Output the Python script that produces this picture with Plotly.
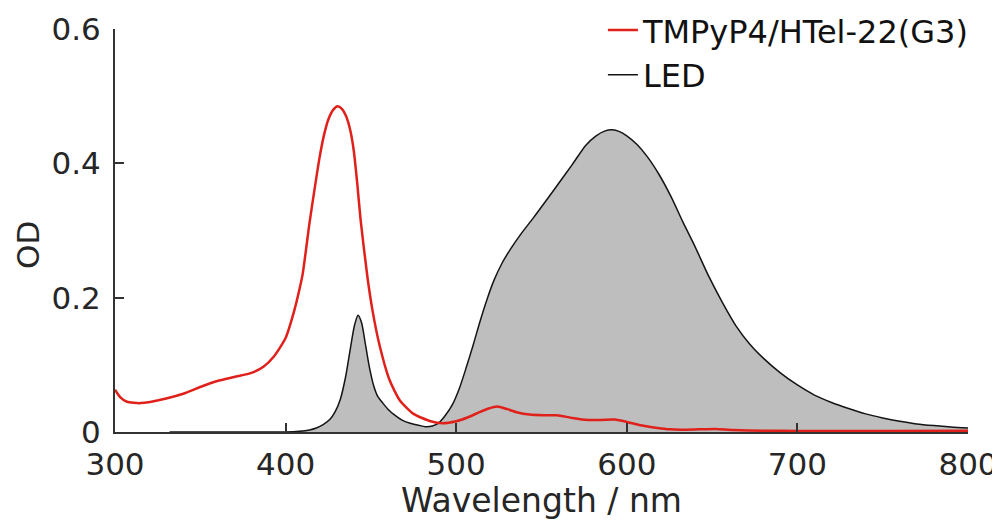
import plotly.graph_objects as go

# ---- data ----
tmpyp4_wl = [300, 303, 307, 315, 330, 340, 350, 360, 370, 380, 387, 393, 400, 405, 408, 410,
             414, 417, 420, 422.5, 425, 428, 430.5, 433, 435.5, 438, 440, 442, 444, 448, 451,
             455, 461, 467, 475, 485, 492, 500, 507, 514, 519, 524, 530, 536, 543, 551, 559,
             568, 577, 585, 593, 600, 608, 618, 625, 632, 642, 652, 662, 680, 700, 750, 800]
tmpyp4_od = [0.063, 0.052, 0.045, 0.043, 0.050, 0.057, 0.067, 0.076, 0.082, 0.088, 0.097, 0.112,
             0.140, 0.180, 0.211, 0.235, 0.311, 0.362, 0.410, 0.442, 0.465, 0.480, 0.485, 0.481,
             0.470, 0.448, 0.418, 0.370, 0.315, 0.230, 0.180, 0.130, 0.077, 0.047, 0.027, 0.016,
             0.013, 0.016, 0.022, 0.030, 0.035, 0.038, 0.034, 0.029, 0.026, 0.025, 0.025, 0.021,
             0.018, 0.018, 0.0185, 0.015, 0.010, 0.006, 0.004, 0.0035, 0.004, 0.0045, 0.003,
             0.002, 0.0015, 0.0015, 0.002]

led_wl = [332, 380, 400, 408, 414, 418, 422, 426, 429, 432, 435, 438, 440.5, 442.5, 444.5,
          446.5, 449, 451.5, 454, 457, 460, 464, 468, 473, 478, 482, 486, 490, 494, 498, 502,
          506, 510, 514, 518, 522, 527, 532, 538, 545, 552, 560, 568, 576, 582, 587, 591, 595,
          600, 606, 612, 619, 626, 633, 640, 648, 656, 664, 672, 680, 690, 700, 710, 720, 730,
          740, 750, 760, 770, 780, 790, 800]
led_od = [0.0, 0.0, 0.0, 0.001, 0.003, 0.006, 0.011, 0.019, 0.030, 0.048, 0.080, 0.125, 0.160,
          0.174, 0.163, 0.135, 0.098, 0.070, 0.053, 0.043, 0.034, 0.025, 0.018, 0.013, 0.010,
          0.008, 0.009, 0.014, 0.026, 0.042, 0.066, 0.097, 0.130, 0.165, 0.197, 0.225, 0.252,
          0.273, 0.295, 0.318, 0.342, 0.370, 0.398, 0.427, 0.441, 0.448, 0.450, 0.448, 0.441,
          0.428, 0.410, 0.383, 0.350, 0.312, 0.276, 0.232, 0.193, 0.158, 0.131, 0.110, 0.088,
          0.070, 0.055, 0.044, 0.035, 0.027, 0.021, 0.016, 0.012, 0.0095, 0.0075, 0.006]

x_ticks = [300, 400, 500, 600, 700, 800]
y_ticks = [0, 0.2, 0.4, 0.6]
y_tick_labels = ["0", "0.2", "0.4", "0.6"]

AXIS = "#333333"
TEXT = "#262626"
FONT = "DejaVu Sans, Liberation Sans, Arial, sans-serif"

fig = go.Figure()
fig.add_trace(go.Scatter(
    x=led_wl, y=led_od, mode="lines", name="LED",
    line=dict(color="#141414", width=1.5, shape="spline", smoothing=0.8),
    fill="tozeroy", fillcolor="#bebebe", showlegend=False,
))
fig.add_trace(go.Scatter(
    x=tmpyp4_wl, y=tmpyp4_od, mode="lines", name="TMPyP4/HTel-22(G3)",
    line=dict(color="#e0201b", width=2.5, shape="spline", smoothing=0.6),
    legendgroup="tmpyp4", legendrank=1,
))
# legend-only entry so the LED key shows a plain black line like the reference
fig.add_trace(go.Scatter(
    x=[None], y=[None], mode="lines", name="LED",
    line=dict(color="#141414", width=1.5),
    legendgroup="led", legendrank=2,
))

# the page body adds an 8 px margin, so the figure is 8 px smaller than the window
fig.update_layout(
    width=992, height=512,
    margin=dict(l=107, r=32, t=21, b=88, autoexpand=False),
    plot_bgcolor="white", paper_bgcolor="white",
    font=dict(family=FONT, size=31, color=TEXT),
    showlegend=True,
    legend=dict(x=0.572, y=1.065, xanchor="left", yanchor="top",
                bgcolor="rgba(0,0,0,0)", borderwidth=0,
                font=dict(family=FONT, size=32, color="#111111"), tracegroupgap=0,
                itemwidth=30),
    annotations=[dict(text="OD", xref="paper", yref="paper", x=-0.102, y=0.464,
                      textangle=-90, showarrow=False, xanchor="center", yanchor="middle",
                      font=dict(family=FONT, size=31, color=TEXT))],
)
fig.update_xaxes(
    range=[300, 800], tickvals=x_ticks, ticks="inside", ticklen=9, tickwidth=2,
    tickcolor=AXIS, showline=True, linecolor=AXIS, linewidth=2, showgrid=False,
    zeroline=False, ticklabelstandoff=4, automargin=False,
    tickfont=dict(family=FONT, size=31, color=TEXT),
    title=dict(text="Wavelength / nm", standoff=4, font=dict(family=FONT, size=33, color=TEXT)),
)
fig.update_yaxes(
    range=[0, 0.6], tickvals=y_ticks, ticktext=y_tick_labels, ticks="inside", ticklen=9,
    tickwidth=2, tickcolor=AXIS, showline=True, linecolor=AXIS, linewidth=2,
    showgrid=False, zeroline=False, ticklabelstandoff=6, automargin=False,
    tickfont=dict(family=FONT, size=31, color=TEXT),
)

fig.write_html("out.html")
